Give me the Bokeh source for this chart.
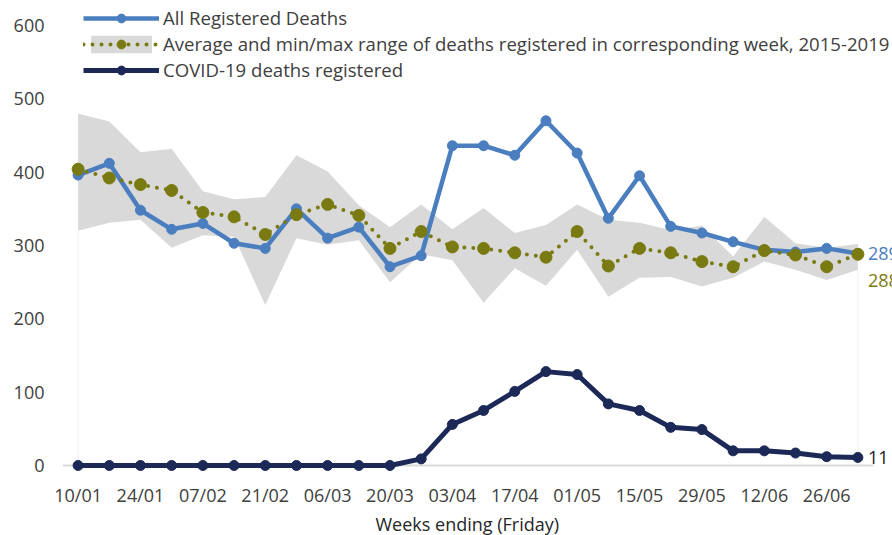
from bokeh.plotting import figure
from bokeh.models import Range1d, FixedTicker, Legend, LegendItem, Label, Title
from bokeh.embed import file_html
from bokeh.resources import INLINE

weeks = ["10/01", "17/01", "24/01", "31/01", "07/02", "14/02", "21/02", "28/02",
         "06/03", "13/03", "20/03", "27/03", "03/04", "10/04", "17/04", "24/04",
         "01/05", "08/05", "15/05", "22/05", "29/05", "05/06", "12/06", "19/06",
         "26/06", "03/07"]
all_deaths = [396, 412, 348, 322, 330, 303, 296, 350, 310, 325, 271, 286, 436,
              436, 423, 470, 426, 337, 395, 326, 317, 305, 294, 291, 296, 289]
avg_deaths = [404, 392, 383, 375, 345, 339, 315, 342, 356, 341, 296, 319, 298,
              296, 290, 284, 319, 272, 296, 290, 278, 271, 293, 287, 271, 288]
min_deaths = [320, 331, 335, 297, 314, 312, 219, 310, 301, 307, 250, 288, 280,
              222, 269, 245, 294, 230, 256, 257, 244, 256, 278, 267, 253, 267]
max_deaths = [480, 469, 427, 432, 374, 363, 366, 423, 401, 355, 325, 356, 322,
              351, 317, 328, 356, 335, 331, 321, 327, 285, 339, 303, 297, 302]
covid_deaths = [0, 0, 0, 0, 0, 0, 0, 0, 0, 0, 0, 9, 56, 75, 101, 128, 124, 84,
                75, 52, 49, 20, 20, 17, 12, 11]
y_ticks = [0, 100, 200, 300, 400, 500, 600]

BLUE = "#4a7ebf"
OLIVE = "#7a7a12"
NAVY = "#1c2957"
BAND = "#d9d9d9"
FONT = "Open Sans"

x = list(range(len(weeks)))

# frame runs to the right edge so that the end labels can show
p = figure(width=892, height=535, x_range=Range1d(-0.5, len(weeks) + 0.11),
           y_range=Range1d(-15, 634), output_backend="svg", toolbar_location=None,
           min_border_left=62, min_border_right=0, min_border_top=0,
           min_border_bottom=58)
p.outline_line_color = None
p.xgrid.visible = False
p.ygrid.visible = False
p.background_fill_color = "white"

# faint edges of the range area
p.segment(x0=[x[0], x[-1]], y0=[0, 0], x1=[x[0], x[-1]],
          y1=[min_deaths[0], min_deaths[-1]], line_color="#f0f0f0", line_width=1)

band = p.varea(x=x, y1=min_deaths, y2=max_deaths, fill_color=BAND)

# category axis line at zero
p.segment(x0=[x[0] - 0.5], y0=[0], x1=[x[-1] + 0.5], y1=[0],
          line_color="#d9d9d9", line_width=2)

bl = p.line(x, all_deaths, line_color=BLUE, line_width=4.5, line_join="round")
bs = p.scatter(x, all_deaths, size=10, fill_color=BLUE, line_color=BLUE)

ol = p.line(x, avg_deaths, line_color=OLIVE, line_width=4, line_dash="0 9",
            line_cap="round")
os_ = p.scatter(x, avg_deaths, size=12, fill_color=OLIVE, line_color=OLIVE)

nl = p.line(x, covid_deaths, line_color=NAVY, line_width=5, line_join="round")
ns = p.scatter(x, covid_deaths, size=10, fill_color=NAVY, line_color=NAVY)

# end labels
for val, col, yoff in [(all_deaths[-1], BLUE, 0), (avg_deaths[-1], OLIVE, 26),
                       (covid_deaths[-1], "#1a1a1a", 0)]:
    p.add_layout(Label(x=x[-1], y=val, text=str(val), x_offset=10, y_offset=-yoff,
                       text_baseline="middle", text_color=col,
                       text_font=FONT, text_font_size="18px"))

# axes
p.yaxis.ticker = FixedTicker(ticks=y_ticks)
p.yaxis.axis_line_color = None
p.yaxis.major_tick_line_color = None
p.yaxis.minor_tick_line_color = None
p.yaxis.major_tick_out = 0
p.yaxis.major_tick_in = 0
p.yaxis.major_label_standoff = 18
p.yaxis.major_label_text_font = FONT
p.yaxis.major_label_text_font_size = "18px"
p.yaxis.major_label_text_color = "#404040"

p.xaxis.ticker = FixedTicker(ticks=x[::2])
p.xaxis.major_label_overrides = {i: weeks[i] for i in x[::2]}
p.xaxis.axis_line_color = None
p.xaxis.major_tick_line_color = None
p.xaxis.minor_tick_line_color = None
p.xaxis.major_tick_out = 0
p.xaxis.major_tick_in = 0
p.xaxis.major_label_standoff = 6
p.xaxis.major_label_text_font = FONT
p.xaxis.major_label_text_font_size = "18px"
p.xaxis.major_label_text_color = "#404040"

xtitle = Title(text="Weeks ending (Friday)", align="left", offset=313,
               text_font=FONT, text_font_size="18px", text_font_style="normal",
               text_color="#262626", standoff=0)
p.add_layout(xtitle, "below")

legend = Legend(items=[
    LegendItem(label="All Registered Deaths", renderers=[bl, bs]),
    LegendItem(label="Average and min/max range of deaths registered in corresponding week, 2015-2019",
               renderers=[band, ol, os_]),
    LegendItem(label="COVID-19 deaths registered", renderers=[nl, ns]),
], location=(21, 394))
legend.glyph_width = 76
legend.glyph_height = 22
legend.label_height = 22
legend.spacing = 1
legend.padding = 0
legend.margin = 0
legend.label_standoff = 4
legend.label_text_font = FONT
legend.label_text_font_size = "18.6px"
legend.label_text_color = "#404040"
legend.background_fill_alpha = 0
legend.border_line_color = None
p.add_layout(legend)

open("out.html", "w").write(file_html(p, INLINE))
